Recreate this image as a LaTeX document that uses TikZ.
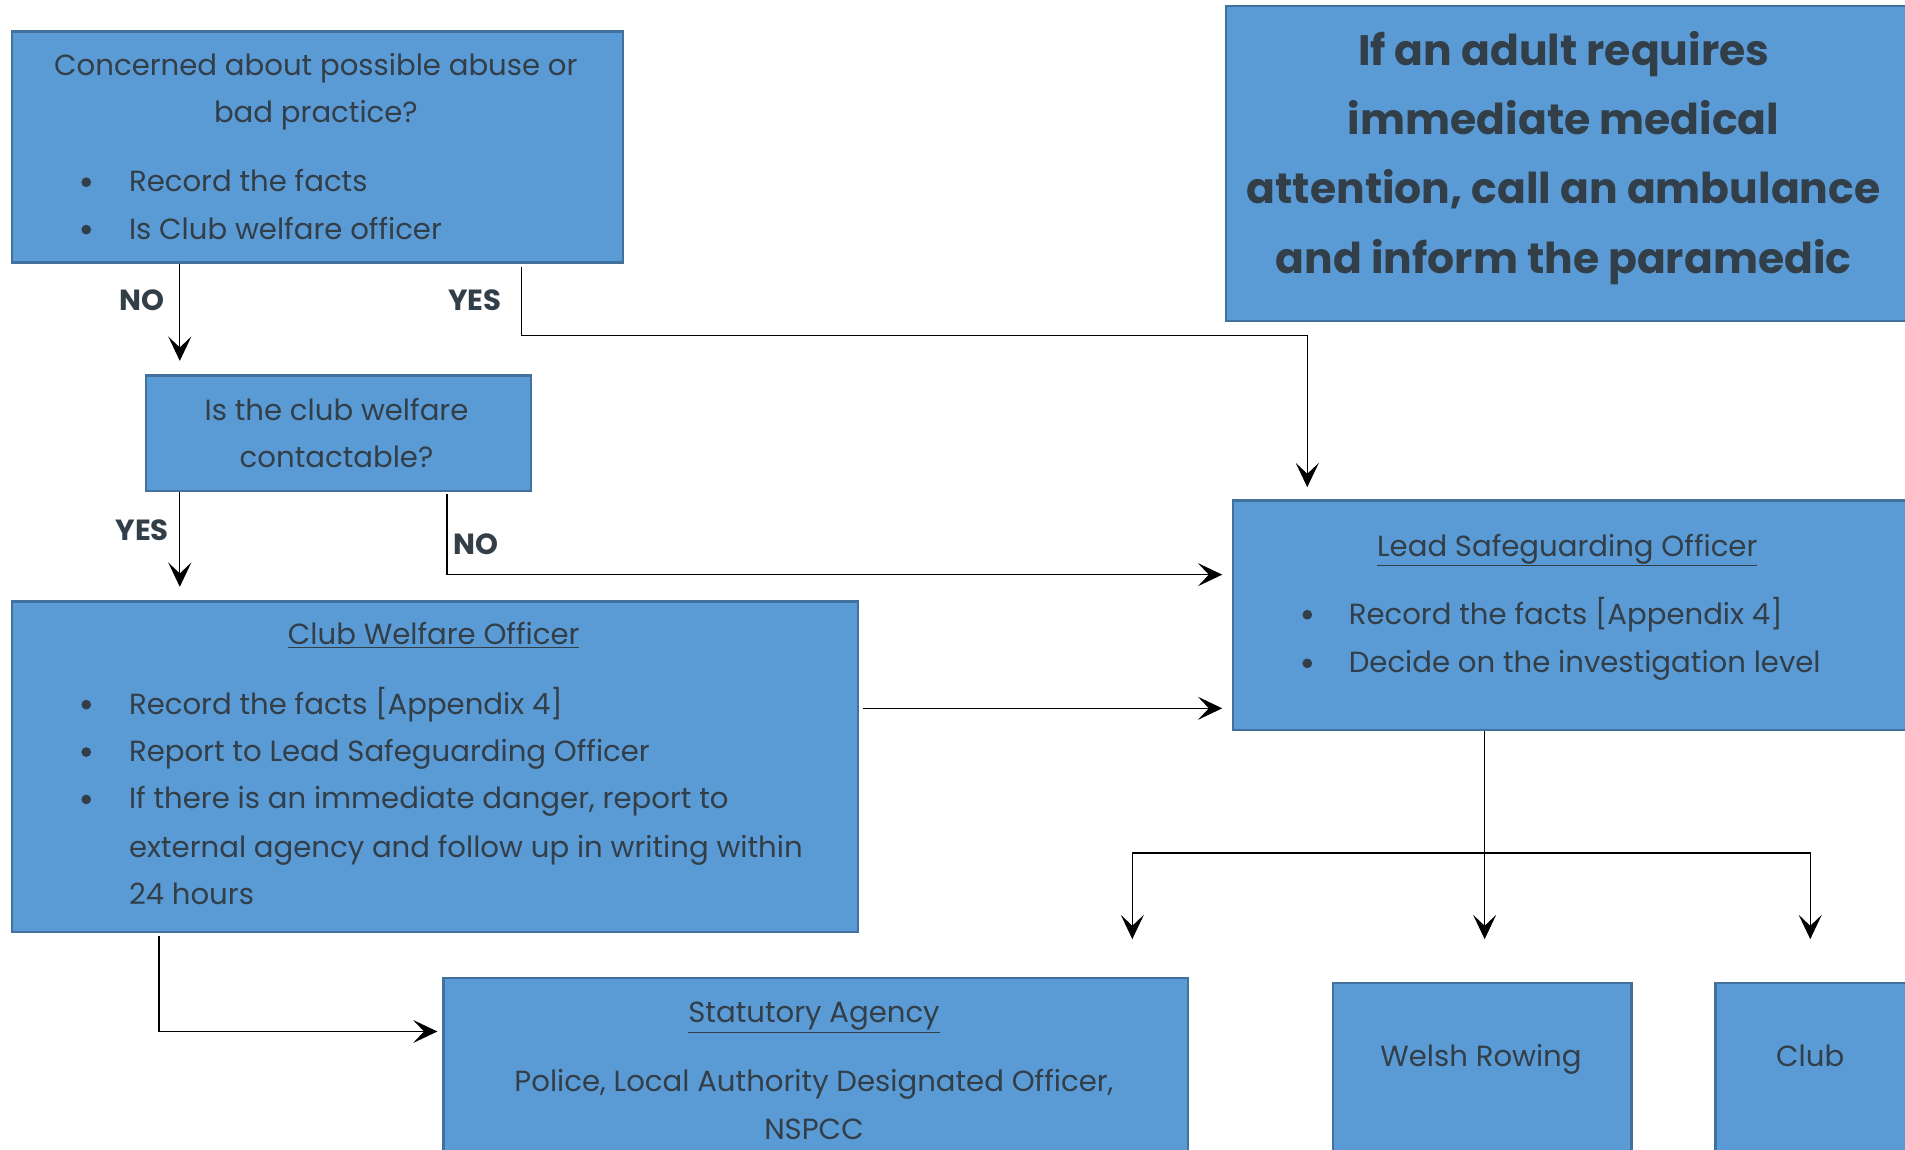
\documentclass[tikz,border=0pt]{standalone}
\usepackage{fontspec}
\setmainfont{Poppins}
\usetikzlibrary{arrows.meta,calc}
\definecolor{boxfill}{HTML}{5B9BD5}
\definecolor{boxline}{HTML}{41719C}
\definecolor{txtc}{HTML}{323E48}
\begin{document}
\begin{tikzpicture}[x=1pt,y=-1pt,
  box/.style={draw=boxline, line width=2pt, fill=boxfill, anchor=north west, inner sep=0pt},
  body/.style={text=txtc, font=\fontsize{24}{39}\selectfont, anchor=mid, inner sep=0pt, yshift=-6pt},
  bodyl/.style={body, anchor=mid west},
  dot/.style={circle, fill=txtc, inner sep=0pt, minimum size=8pt},
  lbl/.style={text=txtc, font=\fontsize{24}{28}\bfseries\selectfont, anchor=mid, inner sep=0pt, yshift=-6pt},
  head/.style={text=txtc, font=\fontsize{35}{57}\bfseries\selectfont, anchor=mid, inner sep=0pt, yshift=-10pt},
  arr/.style={draw=black, line width=1.1pt, -{Stealth[length=20pt,width=19pt,inset=9pt]}}
]
\useasboundingbox (0,0) rectangle (1568,946);
\clip (0,0) rectangle (1568,946);

% boxes
\node[box, minimum width=503pt, minimum height=190pt] (b1) at (9,25) {};
\node[box, minimum width=600pt, minimum height=259pt] (bh) at (1008,4) {};
\node[box, minimum width=317pt, minimum height=95pt] (b3) at (119,308) {};
\node[box, minimum width=696pt, minimum height=272pt] (b4) at (9,494) {};
\node[box, minimum width=600pt, minimum height=189pt] (b5) at (1014,411) {};
\node[box, minimum width=613pt, minimum height=200pt] (b6) at (364,804) {};
\node[box, minimum width=246pt, minimum height=200pt] (b7) at (1096,808) {};
\node[box, minimum width=200pt, minimum height=200pt] (b8) at (1411,808) {};

% box 1 text
\node[body] (t1a) at (260,53) {Concerned about possible abuse or};
\node[body] (t1b) at (260,92) {bad practice?};
\node[dot] (t1c) at (71,150) {};
\node[bodyl] (t1d) at (106,149) {Record the facts};
\node[dot] (t1e) at (71,189) {};
\node[bodyl] (t1f) at (106,188) {Is Club welfare officer};

% heading box
\node[head] (h1) at (1287,41) {If an adult requires};
\node[head] (h2) at (1287,98) {immediate medical};
\node[head] (h3) at (1287,155) {attention, call an ambulance};
\node[head] (h4) at (1287,212) {and inform the paramedic};

% box 3
\node[body] (t3a) at (277,337) {Is the club welfare};
\node[body] (t3b) at (277,376) {contactable?};

% box 4
\node[body] (t4t) at (357,522) {\underline{Club Welfare Officer}};
\node[dot] (t4b1) at (71,580) {};
\node[bodyl] (t4a) at (106,579) {Record the facts [Appendix 4]};
\node[dot] (t4b2) at (71,619) {};
\node[bodyl] (t4b) at (106,618) {Report to Lead Safeguarding Officer};
\node[dot] (t4b3) at (71,658) {};
\node[bodyl] (t4c) at (106,657) {If there is an immediate danger, report to};
\node[bodyl] (t4d) at (106,697) {external agency and follow up in writing within};
\node[bodyl] (t4e) at (106,736) {24 hours};

% box 5
\node[body] (t5t) at (1290,449) {\underline{Lead Safeguarding Officer}};
\node[dot] (t5b1) at (1076,506) {};
\node[bodyl] (t5a) at (1110,505) {Record the facts [Appendix 4]};
\node[dot] (t5b2) at (1076,546) {};
\node[bodyl] (t5b) at (1110,545) {Decide on the investigation level};

% box 6
\node[body] (t6t) at (670,833) {\underline{Statutory Agency}};
\node[body] (t6a) at (670,890) {Police, Local Authority Designated Officer,};
\node[body] (t6b) at (670,929) {NSPCC};

% box 7, 8
\node[body] (t7) at (1219,869) {Welsh Rowing};
\node[body] (t8) at (1490,869) {Club};

% labels
\node[lbl] (l1) at (117,247) {NO};
\node[lbl] (l2) at (391,247) {YES};
\node[lbl] (l3) at (117,436) {YES};
\node[lbl] (l4) at (392,448) {NO};

% connectors
\draw[arr, shorten >=11pt] ($(b1.south west)+(139,0)$) -- ($(b3.north west)+(29,0)$);
\draw[arr, shorten >=10pt] ($(b1.south west)+(420,3)$) |- ($(b5.north west)+(62,-135)$) -- ($(b5.north west)+(62,0)$);
\draw[arr, shorten >=11pt] ($(b3.south west)+(29,0)$) -- ($(b4.north west)+(139,0)$);
\draw[arr, shorten >=8pt] ($(b3.south west)+(249,2)$) |- ($(b5.north west)+(0,62)$);
\draw[arr, shorten >=8pt] ($(b4.north east)+(3,89)$) -- ($(b5.north west)+(0,172)$);
\coordinate (j) at ($(b5.south west)+(208,100)$);
\draw[arr, shorten >=35pt] ($(b5.south west)+(208,0)$) -- ($(b7.north west)+(126,0)$);
\draw[arr, shorten >=31pt] (j) -| ($(b6.north east)+(-47,0)$);
\draw[arr, shorten >=35pt] (j) -| ($(b8.north west)+(79,0)$);
\draw[arr, shorten >=4pt] ($(b4.south west)+(122,2)$) |- ($(b6.north west)+(0,45)$);
\end{tikzpicture}
\end{document}
